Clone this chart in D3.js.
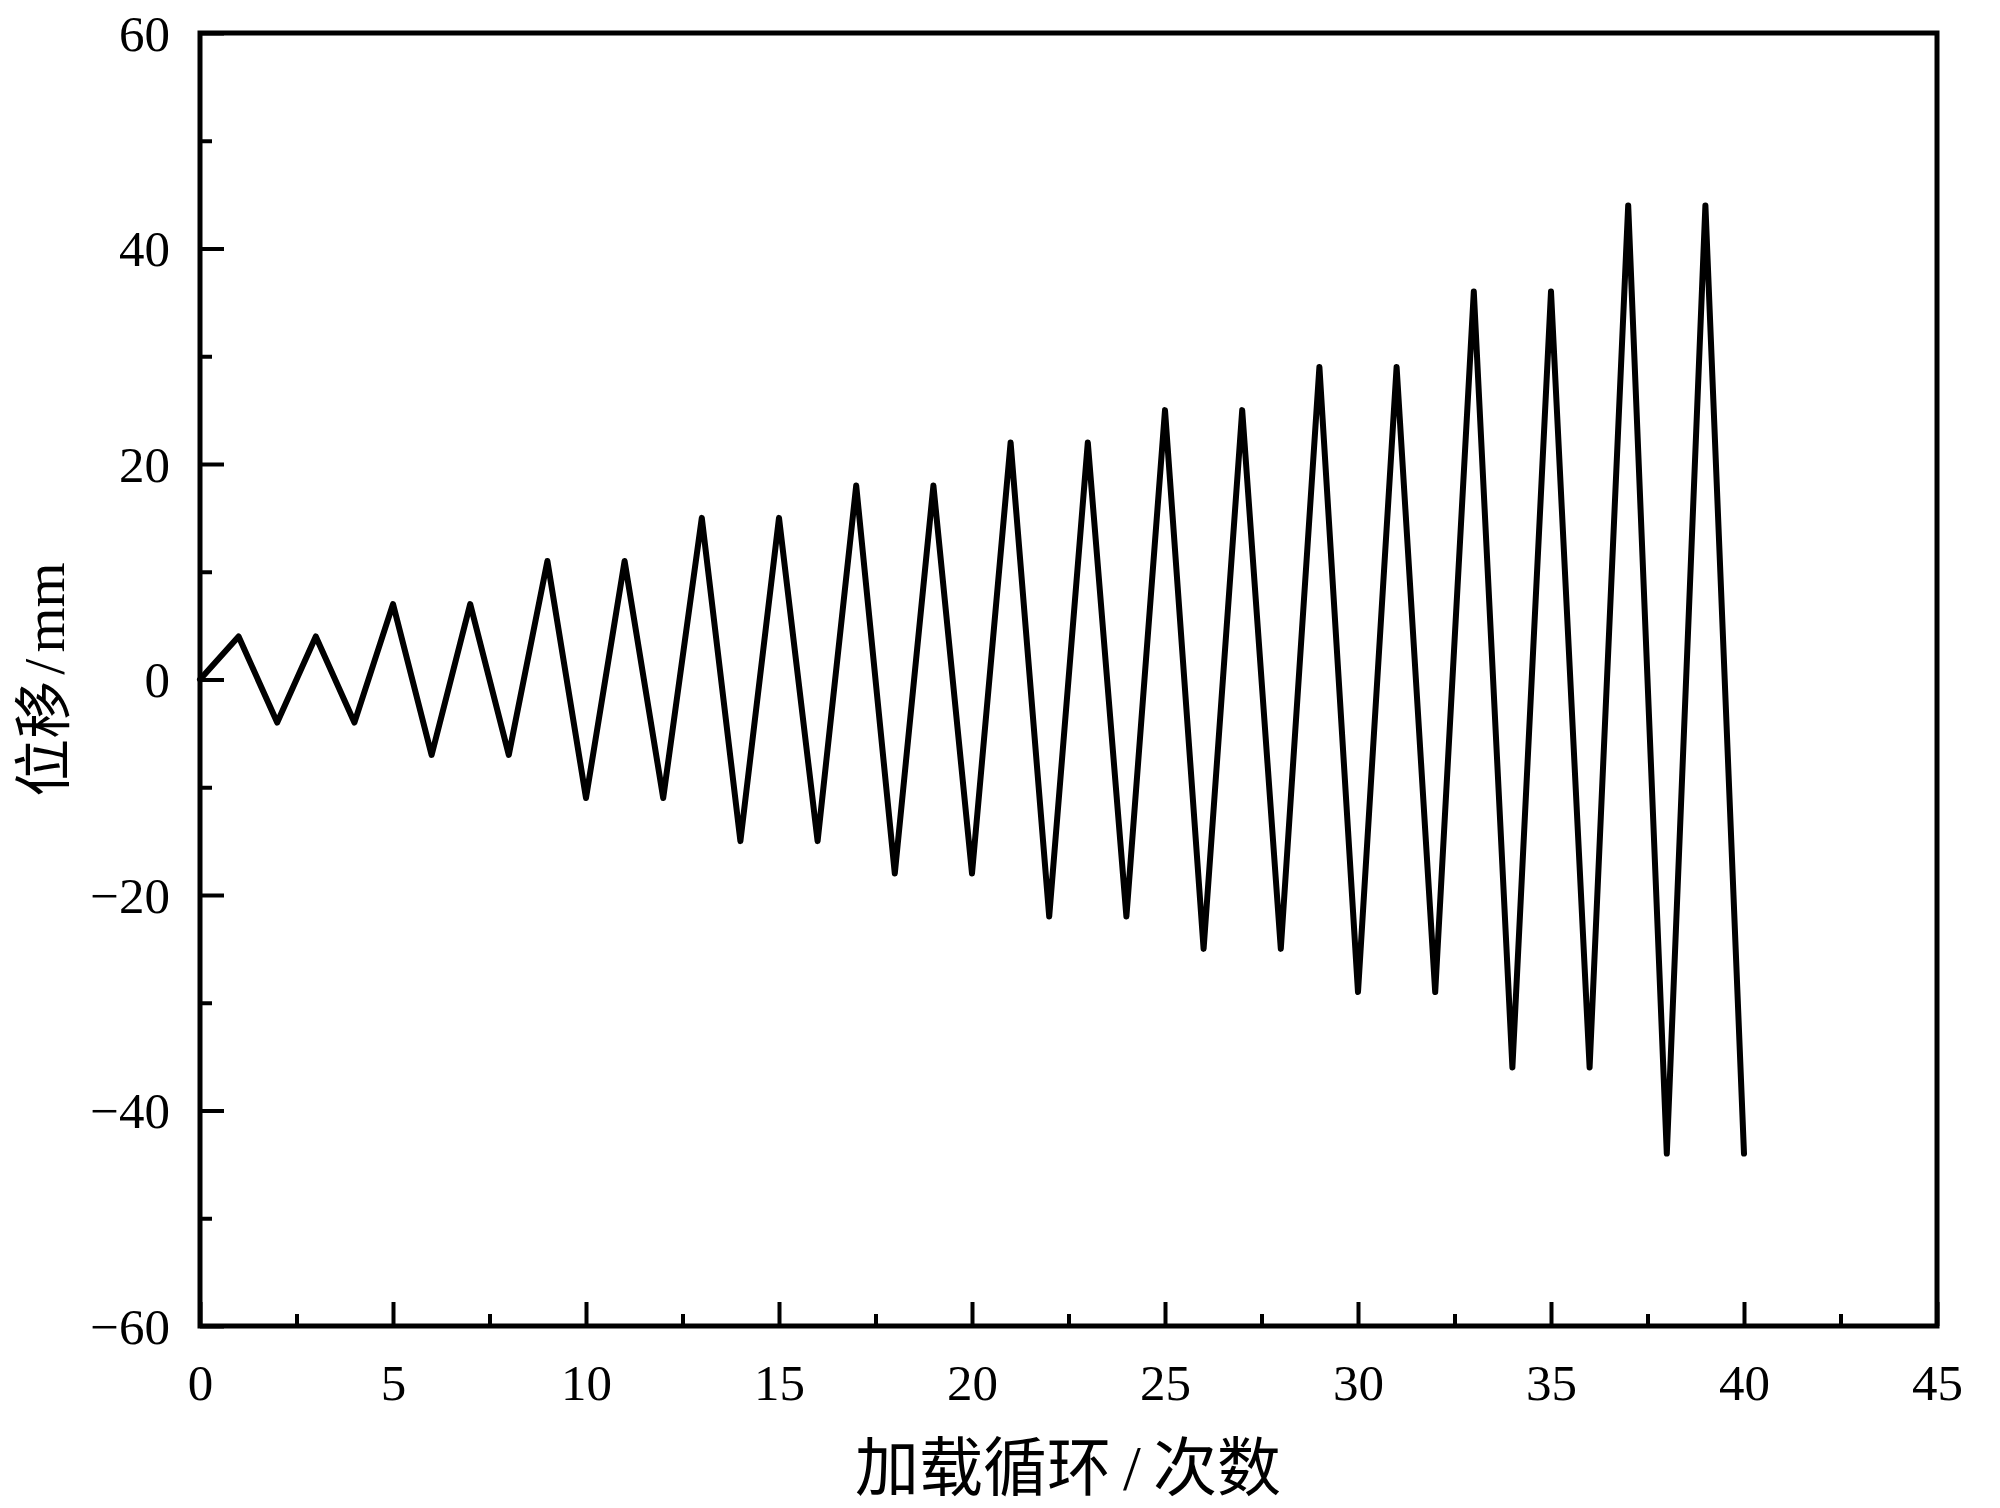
<!DOCTYPE html>
<html>
<head>
<meta charset="utf-8">
<script src="https://cdnjs.cloudflare.com/ajax/libs/d3/7.8.5/d3.min.js"></script>
<style>
  body { margin: 0; background: #fff; }
  svg { display: block; }
</style>
</head>
<body>
<script>
//Loading cycles and displacement peaks (mm)
var cycles = d3.range(0, 41);
var displacement = [0, 4, -4, 4, -4, 7, -7, 7, -7, 11, -11, 11, -11, 15, -15, 15, -15,
                    18, -18, 18, -18, 22, -22, 22, -22, 25, -25, 25, -25, 29, -29, 29, -29,
                    36, -36, 36, -36, 44, -44, 44, -44];

//Tick values
var xMajorTicks = [0, 5, 10, 15, 20, 25, 30, 35, 40, 45];
var xMinorTicks = [2.5, 7.5, 12.5, 17.5, 22.5, 27.5, 32.5, 37.5, 42.5];
var yMajorTicks = [-60, -40, -20, 0, 20, 40, 60];
var yMinorTicks = [-50, -30, -10, 10, 30, 50];

//Axis titles, split around the slash
var xTitleParts = ["加载循环", "/", "次数"];
var yTitleParts = ["位移", "/", "mm"];

//Width and height
var w = 2000;
var h = 1508;
var margin = {top: 33, right: 63, bottom: 182, left: 200};

var svg = d3.select("body")
            .append("svg")
            .attr("width", w)
            .attr("height", h);

var x = d3.scaleLinear()
          .domain([0, 45])
          .range([margin.left, w - margin.right]);

var y = d3.scaleLinear()
          .domain([-60, 60])
          .range([h - margin.bottom, margin.top]);

var fontNum = "'Liberation Serif', 'Times New Roman', serif";
var fontCJK = "'Liberation Serif', 'Noto Sans CJK SC', serif";

//x axis: inward ticks
var xAxis = svg.append("g")
    .attr("transform", "translate(0," + y(-60) + ")");
xAxis.call(d3.axisBottom(x).tickValues(xMajorTicks).tickSizeInner(-24).tickSizeOuter(0).tickPadding(38)
          .tickFormat(d3.format("d")));
xAxis.append("g").call(d3.axisBottom(x).tickValues(xMinorTicks).tickSizeInner(-12).tickSizeOuter(0).tickFormat(""));

//y axis
var yAxis = svg.append("g")
    .attr("transform", "translate(" + x(0) + ",0)");
yAxis.call(d3.axisLeft(y).tickValues(yMajorTicks).tickSizeInner(-24).tickSizeOuter(0).tickPadding(30)
          .tickFormat(function(d) { return d < 0 ? "\u2212" + Math.abs(d) : d; }));
yAxis.append("g").call(d3.axisLeft(y).tickValues(yMinorTicks).tickSizeInner(-12).tickSizeOuter(0).tickFormat(""));

svg.selectAll(".domain").remove();
svg.selectAll(".tick line").attr("stroke", "#000").attr("stroke-width", 4);
svg.selectAll(".tick text")
   .attr("fill", "#000")
   .style("font-family", fontNum)
   .style("font-size", "51px");
yAxis.selectAll(".tick text").attr("dy", "0.34em");

//frame
svg.append("rect")
   .attr("x", x(0))
   .attr("y", y(60))
   .attr("width", x(45) - x(0))
   .attr("height", y(-60) - y(60))
   .attr("fill", "none")
   .attr("stroke", "#000")
   .attr("stroke-width", 5);

//data line
var line = d3.line()
    .x(function(d, i) { return x(cycles[i]); })
    .y(function(d) { return y(d); });

svg.append("path")
   .datum(displacement)
   .attr("d", line)
   .attr("fill", "none")
   .attr("stroke", "#000")
   .attr("stroke-width", 6)
   .attr("stroke-linejoin", "round")
   .attr("stroke-linecap", "round");

//axis titles (slash gets a little space either side, as in the original)
var xt = svg.append("text")
   .attr("x", 1068)
   .attr("y", 1490)
   .attr("text-anchor", "middle")
   .style("font-family", fontCJK)
   .style("font-size", "64px");
xt.selectAll("tspan")
  .data(xTitleParts)
  .enter()
  .append("tspan")
  .attr("dx", function(d, i) { return i == 0 ? 0 : 12; })
  .text(function(d) { return d; });

var yt = svg.append("text")
   .attr("transform", "translate(64," + y(0) + ") rotate(-90)")
   .attr("text-anchor", "middle")
   .style("font-family", fontCJK)
   .style("font-size", "58px");
yt.selectAll("tspan")
  .data(yTitleParts)
  .enter()
  .append("tspan")
  .attr("dx", function(d, i) { return i == 0 ? 0 : 6; })
  .text(function(d) { return d; });
</script>
</body>
</html>
